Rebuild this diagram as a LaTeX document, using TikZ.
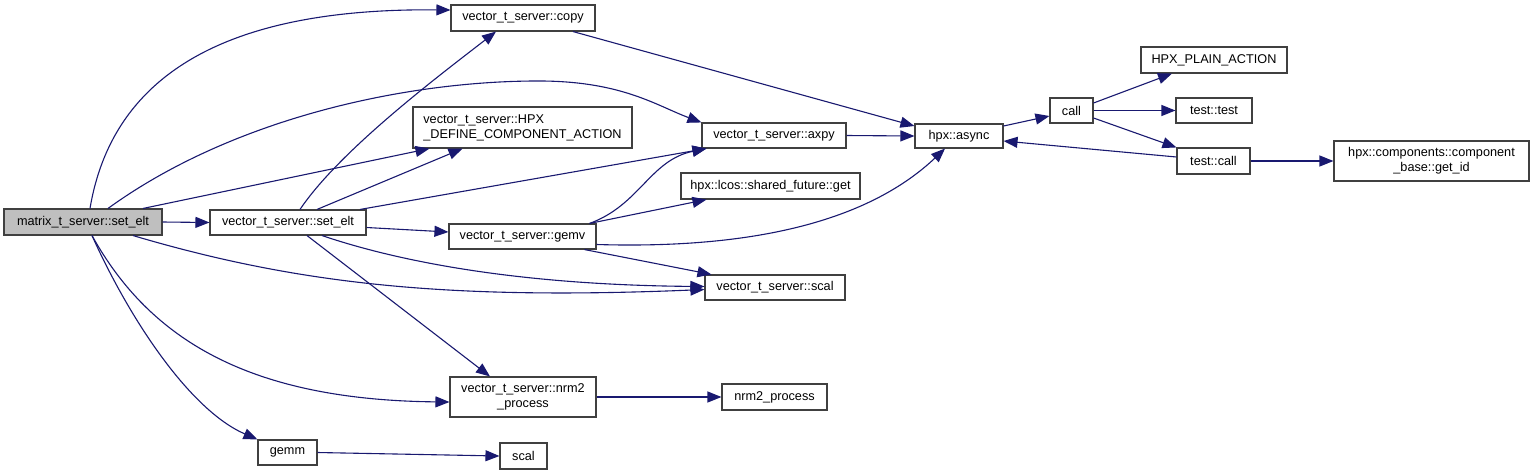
\documentclass[tikz,border=0pt]{standalone}
\usepackage{fontspec}
\setmainfont{Liberation Sans}
\usetikzlibrary{arrows.meta, positioning}
\definecolor{cedge}{HTML}{191970}
\definecolor{cborder}{HTML}{404040}
\definecolor{cfocus}{HTML}{BFBFBF}
\tikzset{
  every picture/.style={x=1pt, y=-1pt, font=\fontsize{12.7}{15}\selectfont},
  fnbox/.style={draw=cborder, fill=#1, line width=1.1pt, inner sep=0pt, align=center, minimum height=25pt},
  fnbox/.default=white,
  arrow/.style={-{Triangle[length=14pt, width=11pt]}, draw=cedge, line width=1.1pt},
}

\begin{document}
\begin{tikzpicture}
  \useasboundingbox[fill=white] (0,0) rectangle (1535,475);
  % functions
  \node[fnbox=cfocus, minimum width=158pt, minimum height=26pt] (mset) at (83,222) {matrix\_t\_server::set\_elt};
  \node[fnbox, minimum width=156pt] (vset) at (288,222.5) {vector\_t\_server::set\_elt};
  \node[fnbox, minimum width=144pt, minimum height=26pt] (vcopy) at (523,18) {vector\_t\_server::copy};
  \node[fnbox, minimum width=219pt, minimum height=41pt, align=left] (vhpx) at (522.5,127.5) {vector\_t\_server::HPX\\\_DEFINE\_COMPONENT\_ACTION};
  \node[fnbox, minimum width=144pt] (vaxpy) at (774,135.5) {vector\_t\_server::axpy};
  \node[fnbox, minimum width=179pt, minimum height=26pt] (sfget) at (770.5,186) {hpx::lcos::shared\_future::get};
  \node[fnbox, minimum width=147pt] (vgemv) at (522.5,236.5) {vector\_t\_server::gemv};
  \node[fnbox, minimum width=140pt] (vscal) at (775,287.5) {vector\_t\_server::scal};
  \node[fnbox, minimum width=146pt, minimum height=40pt] (vnrm2) at (523,397) {vector\_t\_server::nrm2\\\_process};
  \node[fnbox, minimum width=105pt, minimum height=26pt] (nrm2p) at (774.5,397) {nrm2\_process};
  \node[fnbox, minimum width=59pt] (gemm) at (287.5,452.5) {gemm};
  \node[fnbox, minimum width=47pt, minimum height=26pt] (scal) at (523.5,456) {scal};
  % hpx side
  \node[fnbox, minimum width=88pt, minimum height=24pt] (async) at (959,136) {hpx::async};
  \node[fnbox, minimum width=43pt] (call) at (1071.5,110.5) {call};
  \node[fnbox, minimum width=146pt, minimum height=26pt] (plain) at (1214,60) {HPX\_PLAIN\_ACTION};
  \node[fnbox, minimum width=76pt] (ttest) at (1214,110.5) {test::test};
  \node[fnbox, minimum width=73pt, minimum height=26pt] (tcall) at (1213.5,161) {test::call};
  \node[fnbox, minimum width=195pt, minimum height=40pt] (getid) at (1431.5,161) {hpx::components::component\\\_base::get\_id};
  % calls of matrix_t_server::set_elt
  \draw[arrow] (mset.east) -- (vset.west);
  \draw[arrow] ([xshift=7pt]mset.north) .. controls (115,60) and (250,8) .. ([yshift=8pt]vcopy.west);
  \draw[arrow] ([xshift=25pt]mset.north) .. controls (230,120) and (400,82) .. (533,81) .. controls (620,80) and (655,105) .. (vaxpy.north west);
  \draw[arrow] ([xshift=60pt]mset.north) -- ([xshift=17pt]vhpx.south west);
  \draw[arrow] ([xshift=50pt]mset.south) .. controls (300,285) and (450,300) .. ([yshift=-2pt]vscal.west);
  \draw[arrow] ([xshift=9pt]mset.south) .. controls (150,340) and (250,400) .. ([yshift=-5pt]vnrm2.west);
  \draw[arrow] ([xshift=9pt]mset.south) .. controls (130,320) and (190,410) .. (gemm.north west);
  % calls of vector_t_server::set_elt
  \draw[arrow] ([xshift=12pt]vset.north) .. controls (340,150) and (440,75) .. ([xshift=-27pt]vcopy.south);
  \draw[arrow] ([xshift=29pt]vset.north) -- ([xshift=-60pt]vhpx.south);
  \draw[arrow] ([xshift=72pt]vset.north) -- ([xshift=5pt]vaxpy.south west);
  \draw[arrow] ([yshift=-5pt]vset.east) -- ([yshift=4.5pt]vgemv.west);
  \draw[arrow] ([xshift=34pt]vset.south) .. controls (400,262) and (520,285) .. ([yshift=1pt]vscal.west);
  \draw[arrow] ([xshift=19pt]vset.south) -- ([xshift=-33pt]vnrm2.north);
  % calls of vector_t_server::gemv
  \draw[arrow] ([xshift=67pt]vgemv.north) .. controls (640,205) and (650,160) .. ([xshift=5pt]vaxpy.south west);
  \draw[arrow] ([xshift=67pt]vgemv.north) -- ([xshift=26pt]sfget.south west);
  \draw[arrow] ([yshift=-8pt]vgemv.east) .. controls (780,250) and (880,210) .. ([xshift=-14pt]async.south);
  \draw[arrow] ([xshift=62pt]vgemv.south) -- ([xshift=7pt]vscal.north west);
  % the rest
  \draw[arrow] ([xshift=50pt]vcopy.south) -- ([yshift=10pt]async.west);
  \draw[arrow] (vaxpy.east) -- (async.west);
  \draw[arrow] (vnrm2.east) -- (nrm2p.west);
  \draw[arrow] (gemm.east) -- (scal.west);
  \draw[arrow] ([yshift=10pt]async.east) -- ([yshift=-5.5pt]call.west);
  \draw[arrow] ([yshift=7.5pt]call.east) -- ([xshift=-42pt]plain.south);
  \draw[arrow] (call.east) -- (ttest.west);
  \draw[arrow] ([yshift=-7.5pt]call.east) -- (tcall.north west);
  \draw[arrow] ([yshift=4pt]tcall.west) -- ([yshift=-5pt]async.east);
  \draw[arrow] (tcall.east) -- (getid.west);
\end{tikzpicture}
\end{document}
